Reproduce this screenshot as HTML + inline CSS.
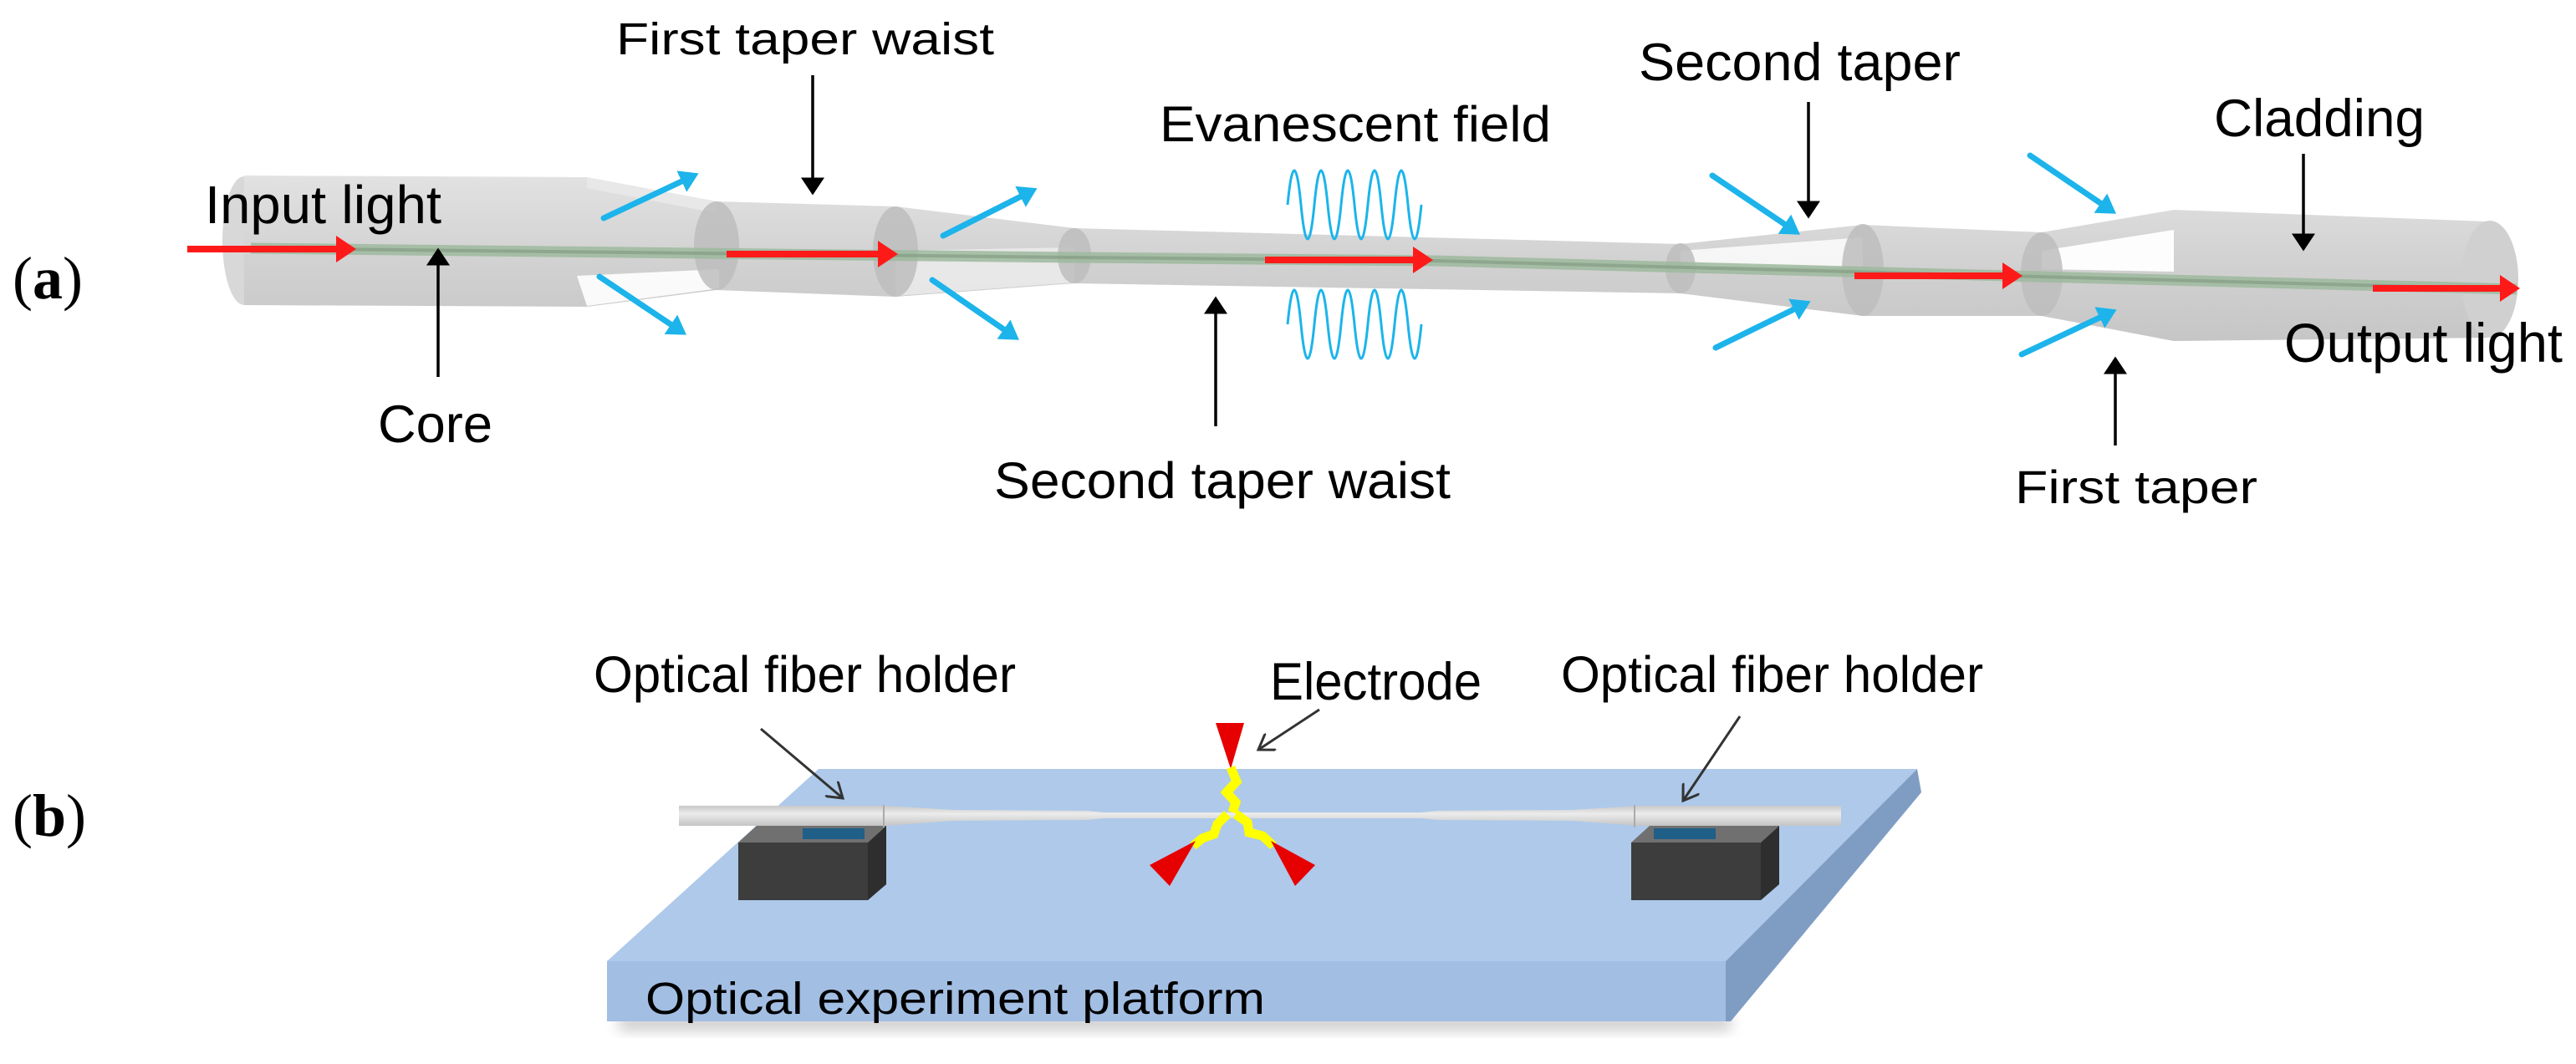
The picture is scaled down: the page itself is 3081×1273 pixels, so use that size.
<!DOCTYPE html>
<html><head><meta charset="utf-8"><style>html,body{margin:0;padding:0;background:#fff}svg{display:block}</style></head>
<body>
<svg width="3081" height="1273" viewBox="0 0 3081 1273" xmlns="http://www.w3.org/2000/svg" font-family="Liberation Sans, Arial, sans-serif">
<defs>
<linearGradient id="cyl" x1="0" y1="0" x2="0" y2="1">
<stop offset="0" stop-color="#e2e2e2"/><stop offset="0.5" stop-color="#d2d2d2"/><stop offset="1" stop-color="#c6c6c6"/></linearGradient>
<linearGradient id="fib" x1="0" y1="0" x2="0" y2="1">
<stop offset="0" stop-color="#c8c8c8"/><stop offset="0.4" stop-color="#ececec"/><stop offset="1" stop-color="#c4c4c4"/></linearGradient>
<marker id="rh" markerWidth="4" markerHeight="4" refX="2" refY="2" orient="auto" markerUnits="strokeWidth"><path d="M0,0 L3,2 L0,4 Z" fill="#ff1a1a"/></marker>
<marker id="bh" markerWidth="4" markerHeight="4" refX="2" refY="2" orient="auto" markerUnits="strokeWidth"><path d="M0,0 L3.2,2 L0,4 Z" fill="#1cb4ea"/></marker>
<marker id="kh" markerWidth="6" markerHeight="8" refX="5" refY="4" orient="auto" markerUnits="strokeWidth"><path d="M0,0 L6,4 L0,8 Z" fill="#000"/></marker>
<marker id="gh" markerWidth="7" markerHeight="8" refX="6" refY="4" orient="auto" markerUnits="strokeWidth"><path d="M0,0 L6,4 L0,8" fill="none" stroke="#333" stroke-width="1"/></marker>
<filter id="blur" x="-10%" y="-50%" width="120%" height="200%"><feGaussianBlur stdDeviation="8"/></filter>
</defs>

<text x="15" y="357" font-family="Liberation Serif, serif" font-size="72">(<tspan font-weight="bold">a</tspan>)</text>

<ellipse cx="292" cy="288" rx="26" ry="77" fill="#d8d8d8"/>
<path d="M292,210 L702,212 L857,241 L1071,247 L1285,273 L2010,292 L2228,269 L2442,278 L2600,251 L2975,265 L2975,404 L2600,408 L2442,378 L2228,378 L2010,351 L1285,339 L1071,355 L857,347 L702,367 L292,365 Z" fill="url(#cyl)"/>
<ellipse cx="2978" cy="334" rx="34" ry="70" fill="#d0d0d0"/>
<path d="M690,330 L860,322 L860,345 L702,366 Z" fill="#fff" opacity="0.9"/>
<path d="M1071,300 L1285,296 L1285,338 L1071,354 Z" fill="#eeeeee" opacity="0.8"/>
<path d="M2010,300 L2228,284 L2228,320 L2010,318 Z" fill="#fff" opacity="0.8"/>
<path d="M2442,300 L2600,275 L2600,325 L2442,322 Z" fill="#fff" opacity="0.95"/>
<path d="M702,212 L857,241 L857,255 L702,225 Z" fill="#e8e8e8"/>
<ellipse cx="857" cy="294" rx="27" ry="53" fill="#bdbdbd" opacity="0.85"/>
<ellipse cx="1071" cy="301" rx="27" ry="54" fill="#bdbdbd" opacity="0.85"/>
<ellipse cx="1285" cy="306" rx="20" ry="33" fill="#bdbdbd" opacity="0.85"/>
<ellipse cx="2010" cy="321" rx="18" ry="30" fill="#bdbdbd" opacity="0.85"/>
<ellipse cx="2228" cy="323" rx="25" ry="55" fill="#bdbdbd" opacity="0.85"/>
<ellipse cx="2442" cy="328" rx="25" ry="50" fill="#bdbdbd" opacity="0.85"/>
<polyline points="300,297 1285,308 1715,312 3010,346" fill="none" stroke="#9db89d" stroke-width="13" opacity="0.85"/>
<polyline points="300,297 1285,308 1715,312 3010,346" fill="none" stroke="#7f967f" stroke-width="4" opacity="0.6"/>

<g stroke="#ff1a1a" stroke-width="8" fill="none" marker-end="url(#rh)">
<line x1="224" y1="298" x2="418" y2="298"/>
<line x1="869" y1="304" x2="1066" y2="304"/>
<line x1="1513" y1="311" x2="1706" y2="311"/>
<line x1="2218" y1="330" x2="2411" y2="330"/>
<line x1="2838" y1="345" x2="3006" y2="345"/>
</g>
<g stroke="#1cb4ea" stroke-width="7" fill="none" marker-end="url(#bh)" stroke-linecap="round">
<line x1="722" y1="261" x2="828" y2="211"/>
<line x1="717" y1="331" x2="814" y2="396"/>
<line x1="1128" y1="282" x2="1233" y2="229"/>
<line x1="1115" y1="335" x2="1212" y2="402"/>
<line x1="2048" y1="210" x2="2146" y2="276"/>
<line x1="2052" y1="416" x2="2158" y2="364"/>
<line x1="2428" y1="186" x2="2524" y2="251"/>
<line x1="2418" y1="424" x2="2524" y2="374"/>
</g>
<g fill="none" stroke="#1cb4ea" stroke-width="3">
<path d="M1540,245 Q1548,163 1556,245 T1572,245 T1588,245 T1604,245 T1620,245 T1636,245 T1652,245 T1668,245 T1684,245 T1700,245"/>
<path d="M1540,388 Q1548,306 1556,388 T1572,388 T1588,388 T1604,388 T1620,388 T1636,388 T1652,388 T1668,388 T1684,388 T1700,388"/>
</g>
<g stroke="#000" stroke-width="3.5" marker-end="url(#kh)">
<line x1="972" y1="90" x2="972" y2="230"/>
<line x1="524" y1="451" x2="524" y2="300"/>
<line x1="1454" y1="510" x2="1454" y2="358"/>
<line x1="2163" y1="122" x2="2163" y2="258"/>
<line x1="2755" y1="184" x2="2755" y2="297"/>
<line x1="2530" y1="533" x2="2530" y2="430"/>
</g>
<g fill="#000">
<text x="245" y="267" font-size="64" textLength="283" lengthAdjust="spacingAndGlyphs">Input light</text>
<text x="737" y="65" font-size="54" textLength="452" lengthAdjust="spacingAndGlyphs">First taper waist</text>
<text x="1387" y="169" font-size="60" textLength="468" lengthAdjust="spacingAndGlyphs">Evanescent field</text>
<text x="452" y="529" font-size="63" textLength="137" lengthAdjust="spacingAndGlyphs">Core</text>
<text x="1189" y="596" font-size="61" textLength="546" lengthAdjust="spacingAndGlyphs">Second taper waist</text>
<text x="1960" y="96" font-size="63" textLength="385" lengthAdjust="spacingAndGlyphs">Second taper</text>
<text x="2648" y="163" font-size="63" textLength="252" lengthAdjust="spacingAndGlyphs">Cladding</text>
<text x="2732" y="433" font-size="66" textLength="333" lengthAdjust="spacingAndGlyphs">Output light</text>
<text x="2410" y="602" font-size="56" textLength="290" lengthAdjust="spacingAndGlyphs">First taper</text>
</g>

<text x="15" y="1000" font-family="Liberation Serif, serif" font-size="72">(<tspan font-weight="bold">b</tspan>)</text>

<rect x="740" y="1215" width="1330" height="18" fill="#999" opacity="0.5" filter="url(#blur)"/>
<polygon points="979,920 2293,920 2064,1150 726,1150" fill="#aec9ea"/>
<polygon points="726,1150 2064,1150 2064,1222 726,1222" fill="#a2bee3"/>
<polygon points="2064,1150 2293,920 2298,948 2070,1222 2064,1222" fill="#7f9dc3"/>
<text x="772" y="1213" font-size="54" textLength="741" lengthAdjust="spacingAndGlyphs">Optical experiment platform</text>

<g>
<polygon points="883,1008 1038,1008 1060,988 905,988" fill="#707070"/>
<rect x="960" y="991" width="74" height="13" fill="#1f5f88"/>
<rect x="883" y="1008" width="155" height="69" fill="#3d3d3d"/>
<polygon points="1038,1008 1060,988 1060,1058 1038,1077" fill="#2e2e2e"/>
<polygon points="1951,1008 2106,1008 2128,988 1973,988" fill="#707070"/>
<rect x="1978" y="991" width="74" height="13" fill="#1f5f88"/>
<rect x="1951" y="1008" width="155" height="69" fill="#3d3d3d"/>
<polygon points="2106,1008 2128,988 2128,1058 2106,1077" fill="#2e2e2e"/>
</g>
<path d="M812,964 L1060,964 L1140,969 L1300,970 L1320,972 L1700,972 L1720,970 L1880,969 L1960,964 L2202,964 L2202,988 L1960,988 L1880,982 L1720,981 L1700,979 L1320,979 L1300,981 L1140,982 L1060,988 L812,988 Z" fill="url(#fib)"/>
<line x1="1057" y1="963" x2="1057" y2="990" stroke="#aaa" stroke-width="2"/>
<line x1="1955" y1="963" x2="1955" y2="990" stroke="#aaa" stroke-width="2"/>

<polygon points="1454,865 1488,865 1472,920" fill="#e60000"/>
<polyline points="1472,918 1479,935 1467,948 1478,960 1474,972" fill="none" stroke="#ffff00" stroke-width="11"/>
<polyline points="1478,974 1492,984 1494,996 1510,1000 1523,1012" fill="none" stroke="#ffff00" stroke-width="11"/>
<polyline points="1468,974 1456,986 1452,998 1438,1003 1427,1012" fill="none" stroke="#ffff00" stroke-width="11"/>
<polygon points="1520,1006 1573,1035 1549,1060" fill="#e60000"/>
<polygon points="1430,1006 1375,1035 1399,1060" fill="#e60000"/>

<g stroke="#333" stroke-width="3" fill="none" marker-end="url(#gh)">
<line x1="910" y1="872" x2="1008" y2="955"/>
<line x1="1578" y1="849" x2="1505" y2="897"/>
<line x1="2081" y1="857" x2="2013" y2="958"/>
</g>
<g fill="#000">
<text x="710" y="828" font-size="61" textLength="505" lengthAdjust="spacingAndGlyphs">Optical fiber holder</text>
<text x="1519" y="837" font-size="63" textLength="253" lengthAdjust="spacingAndGlyphs">Electrode</text>
<text x="1867" y="828" font-size="61" textLength="505" lengthAdjust="spacingAndGlyphs">Optical fiber holder</text>
</g>
</svg>
</body></html>
